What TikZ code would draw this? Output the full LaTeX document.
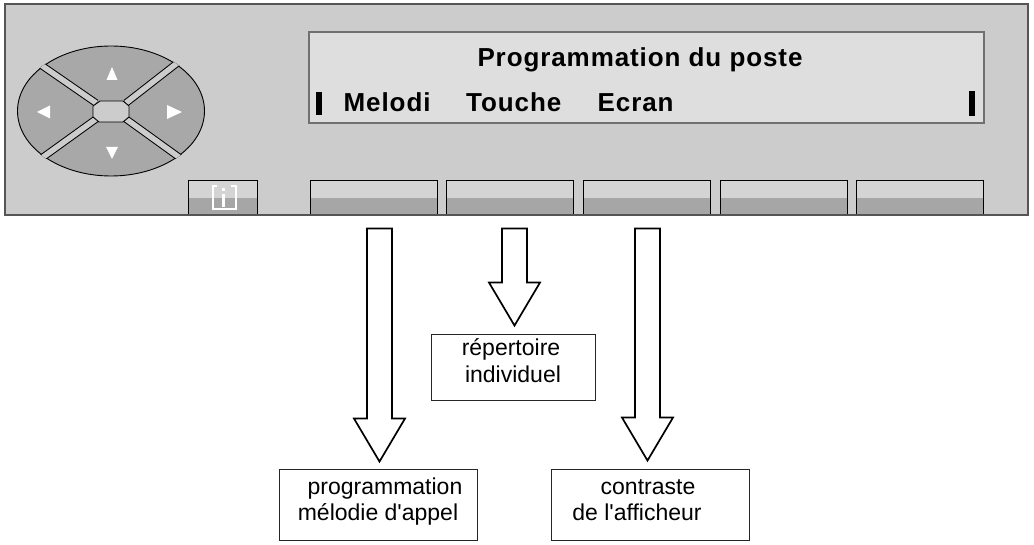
\documentclass[tikz,border=0pt]{standalone}
\usepackage{fontspec}
\setmainfont{Liberation Sans}
\usetikzlibrary{calc}
\definecolor{panelbg}{HTML}{CCCCCC}
\definecolor{dispbg}{HTML}{DEDEDE}
\definecolor{keylight}{HTML}{D4D4D4}
\definecolor{keydark}{HTML}{A6A6A6}
\definecolor{btngray}{HTML}{A8A8A8}
\definecolor{panelline}{HTML}{555555}
\definecolor{displine}{HTML}{707070}
\newcommand{\myblockarrow}[2]{%
  \draw[arrowline] ($(#1)+(-12.5,0)$) -- ($(#2)+(-12.5,-43)$) -- ($(#2)+(-25.5,-43)$) -- (#2)
    -- ($(#2)+(25.5,-43)$) -- ($(#2)+(12.5,-43)$) -- ($(#1)+(12.5,0)$) -- cycle;}
\begin{document}
\begin{tikzpicture}[x=1pt,y=-1pt,
  softkey/.style={draw=black, line width=0.9pt, fill=keydark, minimum width=127pt,
    minimum height=35pt, inner sep=0pt,
    path picture={\fill[keylight] (path picture bounding box.north west) rectangle
      ([yshift=-18pt]path picture bounding box.north east);}},
  disptxt/.style={inner sep=0pt, font=\fontsize{26}{30}\selectfont\bfseries\addfontfeature{LetterSpace=3.5}},
  boxtxt/.style={inner sep=0pt, font=\fontsize{23}{26}\selectfont},
  labelbox/.style={draw=black!85, line width=0.9pt, fill=white, minimum width=198pt,
    minimum height=71pt, inner sep=0pt},
  arrowline/.style={draw=black, line width=1.7pt, fill=white, line join=miter},
  gapline/.style={draw=black, line width=7.5pt},
  gapfill/.style={draw=panelbg, line width=5.5pt},
  tri/.style={fill=white},
  bar/.style={fill=black}
]
\useasboundingbox (0,0) rectangle (1034,545);
\fill[white] (0,0) rectangle (1034,545);

% panel
\fill[panelbg] (5,4) rectangle (1028,215);

% display
\node[draw=displine, line width=2pt, fill=dispbg, minimum width=675pt, minimum height=91pt,
  inner sep=0pt] (disp) at (646.5,77.5) {};
\node[disptxt, anchor=base] (title) at (640,67) {Programmation du poste};
\node[disptxt, anchor=base west] (m1) at (343.5,112) {Melodi};
\node[disptxt, anchor=base west] (m2) at (466,112) {Touche};
\node[disptxt, anchor=base west] (m3) at (597.5,112) {Ecran};
\fill[bar] (316,92) rectangle (322,115);
\fill[bar] (969,91) rectangle (975,116);

% navigation pad
\fill[btngray] (111,111) ellipse [x radius=93.5, y radius=65];
\draw[black, line width=0.9pt] (111,111) ellipse [x radius=93.5, y radius=65];
\begin{scope}
  \clip (111,111) ellipse [x radius=94.2, y radius=65.7];
  \draw[gapline] (96,103) -- (28,56);
  \draw[gapline] (126,103) -- (194,50);
  \draw[gapline] (96,119) -- (28,168);
  \draw[gapline] (126,119) -- (194,168);
  \draw[gapfill] (96,103) -- (28,56);
  \draw[gapfill] (126,103) -- (194,50);
  \draw[gapfill] (96,119) -- (28,168);
  \draw[gapfill] (126,119) -- (194,168);
\end{scope}
\filldraw[fill=panelbg, draw=black, line width=0.9pt]
  (100,101) -- (123,101) -- (129,106) -- (129,117) -- (123,122) -- (99,122) -- (93,117) -- (93,106) -- cycle;
\fill[tri] (112,67) -- (117.5,80) -- (106.5,80) -- cycle;
\fill[tri] (37,112) -- (50,105.5) -- (50,118.5) -- cycle;
\fill[tri] (182,112) -- (167,105) -- (167,119) -- cycle;
\fill[tri] (112,159) -- (106,147) -- (118,147) -- cycle;

% keys
\node[softkey, minimum width=69pt] (ki) at (222.5,197.5) {};
\draw[white, line width=2pt] (217,186) -- (212.5,186) -- (212.5,209) -- (235.5,209) -- (235.5,186) -- (231,186);
\fill[white] (222.3,188) rectangle (225.3,191);
\fill[white] (222.3,194) rectangle (225.3,207);
\node[softkey] (k1) at (373.5,197.5) {};
\node[softkey] (k2) at (510,197.5) {};
\node[softkey] (k3) at (646.5,197.5) {};
\node[softkey] (k4) at (783.5,197.5) {};
\node[softkey] (k5) at (919.5,197.5) {};

% panel outline
\draw[panelline, line width=1.2pt] (5,4) rectangle (1028,215);

% label boxes
\node[labelbox] (b1) at (378,504.5) {};
\node[labelbox] (b3) at (650,504.5) {};
\node[labelbox, minimum width=164pt, minimum height=66pt] (b2) at (513,367) {};
\node[boxtxt, anchor=base] (t1a) at (385,494) {programmation};
\node[boxtxt, anchor=base] (t1b) at (378,520) {mélodie d\textquotesingle appel};
\node[boxtxt, anchor=base] (t2a) at (511,356) {répertoire};
\node[boxtxt, anchor=base] (t2b) at (513,383) {individuel};
\node[boxtxt, anchor=base] (t3a) at (648,494) {contraste};
\node[boxtxt, anchor=base] (t3b) at (637,520) {de l\textquotesingle afficheur};

% arrows
\coordinate (a1s) at ($(k1.south)+(6,13)$);
\coordinate (a1e) at ($(b1.north)+(1.5,-7)$);
\coordinate (a2s) at ($(k2.south)+(4.5,13)$);
\coordinate (a2e) at ($(b2.north)+(1.5,-8)$);
\coordinate (a3s) at ($(k3.south)+(1,13)$);
\coordinate (a3e) at ($(b3.north)+(-2.5,-8)$);
\myblockarrow{a1s}{a1e}
\myblockarrow{a2s}{a2e}
\myblockarrow{a3s}{a3e}
\end{tikzpicture}
\end{document}
